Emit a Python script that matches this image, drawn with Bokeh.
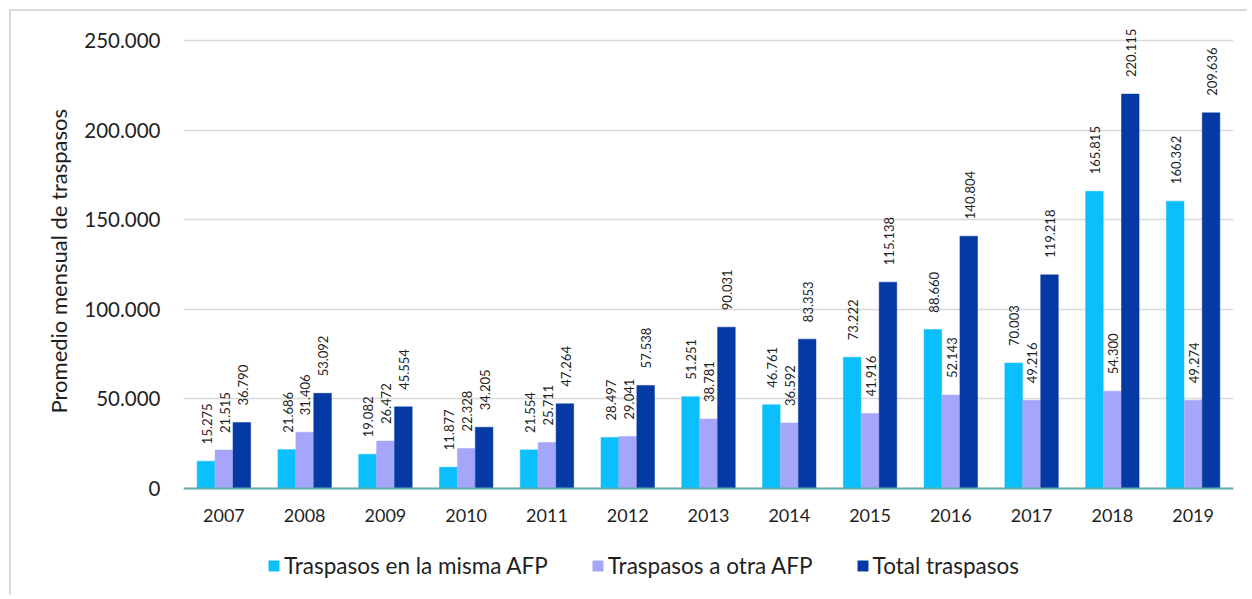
from bokeh.plotting import figure
from bokeh.models import (ColumnDataSource, FactorRange, Range1d, FixedTicker, Legend, LegendItem,
                          LabelSet, Title)
from bokeh.core.properties import value
from bokeh.transform import dodge
from bokeh.embed import file_html
from bokeh.resources import INLINE

years = ["2007", "2008", "2009", "2010", "2011", "2012", "2013", "2014", "2015", "2016", "2017", "2018", "2019"]
misma = [15275, 21686, 19082, 11877, 21554, 28497, 51251, 46761, 73222, 88660, 70003, 165815, 160362]
otra = [21515, 31406, 26472, 22328, 25711, 29041, 38781, 36592, 41916, 52143, 49216, 54300, 49274]
total = [36790, 53092, 45554, 34205, 47264, 57538, 90031, 83353, 115138, 140804, 119218, 220115, 209636]
series_names = ["Traspasos en la misma AFP", "Traspasos a otra AFP", "Total traspasos"]
y_ticks = [0, 50000, 100000, 150000, 200000, 250000]
y_tick_labels = ["0", "50.000", "100.000", "150.000", "200.000", "250.000"]
y_title = "Promedio mensual de traspasos"

colors = ["#0ABFFC", "#A5A6FA", "#0539A3"]
FONT = "Lato"
TXT = "#1F1F1F"


def fmt(v):
    return f"{v:,}".replace(",", ".")


src = ColumnDataSource(dict(
    year=years, misma=misma, otra=otra, total=total,
    misma_lbl=[fmt(v) for v in misma], otra_lbl=[fmt(v) for v in otra], total_lbl=[fmt(v) for v in total],
))

p = figure(x_range=FactorRange(*years, range_padding=0), y_range=Range1d(-60826, 262277),
           width=1238, height=586, output_backend="svg", toolbar_location=None,
           min_border_left=172, min_border_right=16, min_border_top=7, min_border_bottom=0)
p.x_range.range_padding = 0
p.outline_line_color = None
p.background_fill_color = "white"
p.border_fill_color = "white"
p.margin = (9, 0, 0, 9)
p.styles = {"border-top": "2px solid #D9D9D9", "border-left": "2px solid #D9D9D9"}

offsets = [-0.222, 0.0, 0.222]
keys = ["misma", "otra", "total"]
renderers = []
for k, off, c in zip(keys, offsets, colors):
    r = p.vbar(x=dodge("year", off, range=p.x_range), top=k, width=0.218, source=src,
               fill_color=c, line_color=c, line_width=0.5)
    renderers.append(r)
    lbl = LabelSet(x=dodge("year", off + 0.01, range=p.x_range), y=k, text=k + "_lbl", source=src,
                   angle=1.5708, text_align="left", text_baseline="middle", y_offset=17,
                   text_font=value(FONT), text_font_size=value("13px"), text_color=TXT)
    p.add_layout(lbl)

# axes
p.yaxis.ticker = FixedTicker(ticks=y_ticks)
p.yaxis.major_label_overrides = {t: l for t, l in zip(y_ticks, y_tick_labels)}
p.yaxis.axis_line_color = None
p.yaxis.major_tick_line_color = None
p.yaxis.minor_tick_line_color = None
p.yaxis.major_tick_out = 0
p.yaxis.major_label_standoff = 23
p.yaxis.major_label_text_font = FONT
p.yaxis.major_label_text_font_size = "20.5px"
p.yaxis.major_label_text_color = TXT

ytitle = Title(text=y_title, align="left", offset=184, standoff=20,
               text_font=FONT, text_font_size="22px", text_font_style="normal", text_color=TXT)
p.add_layout(ytitle, "left")

p.xaxis.fixed_location = 0
p.xaxis.axis_line_color = "#5FAAAA"
p.xaxis.axis_line_width = 2
p.xaxis.major_tick_line_color = None
p.xaxis.major_tick_out = 0
p.xaxis.major_label_standoff = 21
p.xaxis.major_label_text_font = FONT
p.xaxis.major_label_text_font_size = "18px"
p.xaxis.major_label_text_color = TXT

p.xgrid.grid_line_color = None
p.ygrid.ticker = FixedTicker(ticks=y_ticks)
p.ygrid.grid_line_color = "#D9D9D9"
p.ygrid.grid_line_width = 1.5

legend = Legend(items=[LegendItem(label=n, renderers=[r]) for n, r in zip(series_names, renderers)],
                orientation="horizontal", location=(84, 18), margin=0, padding=0,
                spacing=43, glyph_width=13, glyph_height=13, label_height=13,
                label_standoff=4, label_text_font=FONT, label_text_font_size="22.5px",
                label_text_color=TXT, border_line_color=None, background_fill_alpha=0)
p.add_layout(legend, "center")

open("out.html", "w").write(file_html(p, INLINE))
